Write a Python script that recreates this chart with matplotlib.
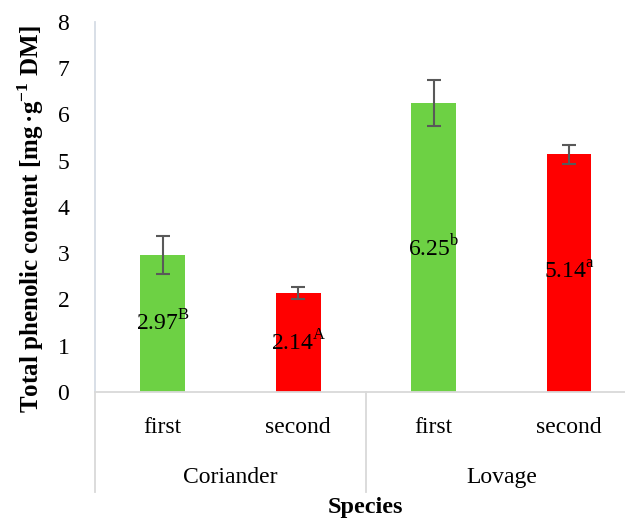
import numpy as np
import matplotlib
matplotlib.use('Agg')
import matplotlib.pyplot as plt
from matplotlib.transforms import blended_transform_factory

# data
species = ['Coriander', 'Lovage']
harvest = ['first', 'second', 'first', 'second']
values = [2.97, 2.14, 6.25, 5.14]
errors = [0.41, 0.14, 0.49, 0.21]
letters = ['B', 'A', 'b', 'a']
colors = ['#6DD144', '#FF0000', '#6DD144', '#FF0000']

plt.rcParams['font.family'] = ['Liberation Serif', 'DejaVu Serif']
plt.rcParams['mathtext.fontset'] = 'custom'
plt.rcParams['mathtext.rm'] = 'Liberation Serif'
plt.rcParams['mathtext.bf'] = 'Liberation Serif:bold'

fs = 17

fig = plt.figure(figsize=(6.25, 5.21), dpi=100)
ax = fig.add_axes([0.152, 0.2476, 0.867, 0.7102])

x = np.arange(len(values))
ax.bar(x, values, width=0.33, color=colors, zorder=2)
ax.errorbar(x, values, yerr=errors, fmt='none', ecolor='#595959',
            elinewidth=1.5, capsize=5, capthick=1.5, zorder=3)

for xi, v, l in zip(x, values, letters):
    ax.text(xi, v / 2, f'{v:.2f}' + r'$^{\mathrm{' + l + '}}$',
            ha='center', va='center', fontsize=fs, color='black', zorder=4)

ax.set_xlim(-0.5, 3.5)
ax.set_ylim(0, 8)
ax.set_yticks(range(9))
ax.tick_params(axis='y', length=0, pad=18.5, labelsize=fs)
ax.set_xticks(x)
ax.set_xticklabels(harvest)
ax.tick_params(axis='x', length=0, pad=18, labelsize=fs)

for s in ['top', 'right']:
    ax.spines[s].set_visible(False)
ax.spines['left'].set_color('#D6DCE5')
ax.spines['left'].set_linewidth(1.3)
ax.spines['bottom'].set_color('#D9D9D9')
ax.spines['bottom'].set_linewidth(1.3)

# group separators below the axis
trans = blended_transform_factory(ax.transData, ax.transAxes)
drop = -100 / 370
for sx in [-0.5, 1.5]:
    ax.plot([sx, sx], [0, drop], transform=trans, color='#D9D9D9',
            lw=1.3, clip_on=False)
for i, sp in enumerate(species):
    ax.text(2 * i + 0.5, -85 / 370, sp, transform=trans, ha='center',
            va='center', fontsize=fs)

ax.set_ylabel(r'Total phenolic content [mg$\,$·g$^{\mathbf{-1}}$ DM]',
              fontsize=18, fontweight='bold')
ax.yaxis.set_label_coords(-(95 - 46) / 542, 0.468)
fig.text(365 / 625, 1 - 508 / 521, 'Species', ha='center', va='center',
         fontsize=17.5, fontweight='bold')

fig.savefig('out.png', dpi=100)
